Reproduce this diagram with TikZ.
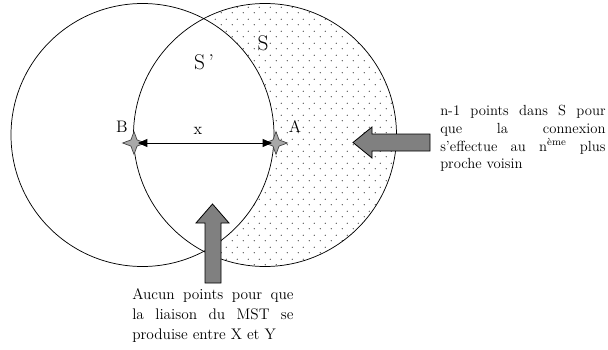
\documentclass[tikz,border=0pt]{standalone}
\usepackage{xcolor}
\definecolor{cArrow}{HTML}{808080}
\definecolor{cStar}{HTML}{A8A8A8}
\definecolor{cStarLine}{HTML}{404040}
\definecolor{cDot}{HTML}{3A3A3A}
\usepackage{tikz}
\usetikzlibrary{positioning,arrows.meta,shapes.geometric,patterns}
\pgfdeclarepatternformonly{sparse-dots}{\pgfpointorigin}{\pgfpoint{8.25pt}{9pt}}%
  {\pgfpoint{8.25pt}{9pt}}{%
  \pgfpathcircle{\pgfpoint{1pt}{1pt}}{0.45pt}
  \pgfpathcircle{\pgfpoint{5.1pt}{5.5pt}}{0.45pt}
  \pgfusepath{fill}}
\tikzset{
  ring/.style={draw=black,line width=0.55pt},
  block-arrow/.style={draw=black,line width=0.6pt,fill=cArrow},
  star-mark/.style={star,star points=4,star point ratio=2.6,minimum size=17pt,
    inner sep=0pt,fill=cStar,draw=cStarLine,line width=0.5pt},
  dim-arrow/.style={{Triangle[length=7pt,width=6pt]}-{Triangle[length=7pt,width=6pt]},
    line width=0.6pt,shorten <=3pt,shorten >=3pt},
  lbl/.style={font=\fontsize{12.5}{14}\selectfont,inner sep=0pt},
  lbl-big/.style={font=\fontsize{16}{18}\selectfont,inner sep=0pt},
  note/.style={align=justify,inner sep=0pt,anchor=north west},
}
\begin{document}
\begin{tikzpicture}[x=0.75pt,y=-0.75pt]
  \useasboundingbox (0,0) rectangle (608,350);
  % partie pointillee de S hors de S'
  \begin{scope}
    \clip (265,135) circle[radius=131.5];
    \fill[pattern=sparse-dots,pattern color=cDot,even odd rule]
      (265,135) circle[radius=131.5] (142.5,135) circle[radius=131.5];
  \end{scope}
  \draw[ring] (142.5,135) circle[radius=131.5];
  \draw[ring] (265,135) circle[radius=131.5];

  \node[lbl-big] (lbl-sp) at (204,62) {S\,’};
  \node[lbl-big] (lbl-s)  at (263,43) {S};

  \node[star-mark] (star-b) at (134,143) {};
  \node[star-mark] (star-a) at (276,143) {};
  \node[lbl] (lbl-b) at (122,127) {B};
  \node[lbl] (lbl-a) at (295,127) {A};
  \node[lbl] (lbl-x) at (198,131) {x};
  \draw[dim-arrow] (star-b.center) -- (star-a.center);

  % fleches grises
  \draw[block-arrow] (353,142.5) -- (372,127) -- (372,134) -- (430,134)
    -- (430,151) -- (372,151) -- (372,158) -- cycle;
  \draw[block-arrow] (212.5,204) -- (229,223) -- (221,223) -- (221,283)
    -- (205,283) -- (205,223) -- (196,223) -- cycle;

  \node[note,text width=124pt,font=\fontsize{11}{13.3}\selectfont] (note-right)
    at (440,105) {n-1 points dans S pour\linebreak que la connexion\linebreak
    s’effectue au n\textsuperscript{ème} plus\linebreak proche voisin};
  \node[note,text width=121pt,font=\fontsize{11.5}{15}\selectfont] (note-bottom)
    at (132,288) {Aucun points pour que\linebreak la liaison du MST se\linebreak
    produise entre X et Y};
\end{tikzpicture}
\end{document}
